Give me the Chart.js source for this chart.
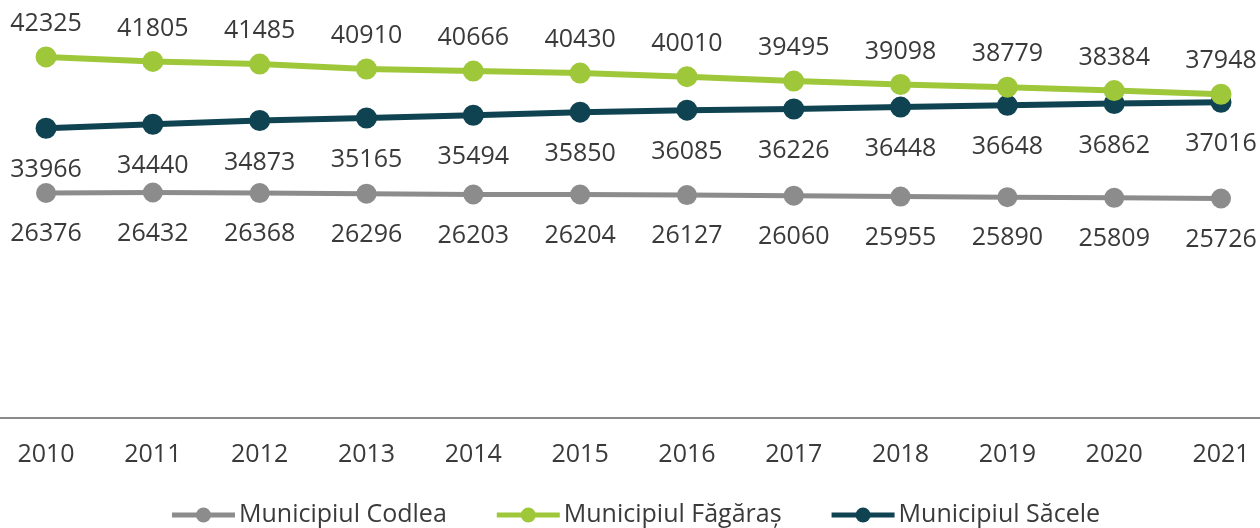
<!DOCTYPE html>
<html>
<head>
<meta charset="utf-8">
<script src="https://cdn.jsdelivr.net/npm/chart.js@4/dist/chart.umd.min.js"></script>
<style>
html,body{margin:0;padding:0;background:#fff;}
#wrap{width:1260px;height:528px;position:relative;}
</style>
</head>
<body>
<div id="wrap"><canvas id="c"></canvas></div>
<script>
const years = ['2010','2011','2012','2013','2014','2015','2016','2017','2018','2019','2020','2021'];
const codlea = [26376,26432,26368,26296,26203,26204,26127,26060,25955,25890,25809,25726];
const fagaras = [42325,41805,41485,40910,40666,40430,40010,39495,39098,38779,38384,37948];
const sacele = [33966,34440,34873,35165,35494,35850,36085,36226,36448,36648,36862,37016];
const seriesNames = ['Municipiul Codlea','Municipiul Făgăraș','Municipiul Săcele'];

const FONT = '"Open Sans", sans-serif';
const TEXT = '#3a3a3a';

function pts(arr){ return arr.map((v,i)=>({x:i,y:v})); }

const labelOffsets = [41, -33, 42];

const dataLabels = {
  id:'dataLabels',
  afterDatasetsDraw(chart){
    const ctx = chart.ctx;
    ctx.save();
    ctx.font = '25px ' + FONT;
    ctx.fillStyle = TEXT;
    ctx.textAlign = 'center';
    ctx.textBaseline = 'middle';
    chart.data.datasets.forEach((ds,di)=>{
      const meta = chart.getDatasetMeta(di);
      meta.data.forEach((p,i)=>{
        ctx.fillText(String(ds.data[i].y), p.x, p.y + labelOffsets[di]);
      });
    });
    ctx.restore();
  }
};

const customLegend = {
  id:'customLegend',
  afterDraw(chart){
    const ctx = chart.ctx;
    ctx.save();
    ctx.font = '25px ' + FONT;
    ctx.textBaseline = 'middle';
    const markW = 63, gapT = 4, gapI = 50, cy = 515;
    const items = chart.data.datasets.map(ds=>({ds, w: ctx.measureText(ds.label).width}));
    let total = 0;
    items.forEach((it,k)=>{ total += markW + gapT + it.w + (k ? gapI : 0); });
    let x = 636 - total/2;
    items.forEach(it=>{
      ctx.strokeStyle = it.ds.borderColor;
      ctx.lineWidth = 5;
      ctx.beginPath(); ctx.moveTo(x, cy); ctx.lineTo(x+markW, cy); ctx.stroke();
      ctx.fillStyle = it.ds.borderColor;
      ctx.beginPath(); ctx.arc(x+markW/2, cy, 7.5, 0, Math.PI*2); ctx.fill();
      ctx.fillStyle = TEXT;
      ctx.textAlign = 'left';
      ctx.fillText(it.ds.label, x+markW+gapT, cy);
      x += markW + gapT + it.w + gapI;
    });
    ctx.restore();
  }
};

function ds(label, arr, color, lw){
  return {label, data: pts(arr), borderColor: color, backgroundColor: color,
    pointBackgroundColor: color, pointBorderColor: color, borderWidth: lw,
    pointRadius: 7.5, pointHoverRadius: 7.5, tension: 0, clip: false};
}

new Chart(document.getElementById('c'), {
  type:'line',
  data:{ datasets:[
    ds(seriesNames[0], codlea, '#8c8c8c', 5),
    ds(seriesNames[1], fagaras, '#9fc73a', 6),
    ds(seriesNames[2], sacele, '#0f4352', 6)
  ]},
  options:{
    responsive:true, maintainAspectRatio:false, animation:false,
    layout:{autoPadding:false, padding:{top:0,left:0,right:0,bottom:0}},
    plugins:{legend:{display:false}, tooltip:{enabled:false}},
    scales:{
      x:{
        type:'linear', min:-0.431, max:11.365,
        afterBuildTicks(scale){ scale.ticks = years.map((_,i)=>({value:i})); },
        afterFit(scale){ scale.height = 110; scale.paddingLeft = 0; scale.paddingRight = 0; },
        grid:{display:false, drawTicks:false},
        border:{display:true, color:'#8a8a8a', width:2},
        ticks:{padding:22, autoSkip:false, maxRotation:0, color:TEXT,
          font:{family:FONT, size:25},
          callback:(v)=>years[v] }
      },
      y:{ display:false, min:0, max:49000 }
    }
  },
  plugins:[dataLabels, customLegend]
});
</script>
</body>
</html>
